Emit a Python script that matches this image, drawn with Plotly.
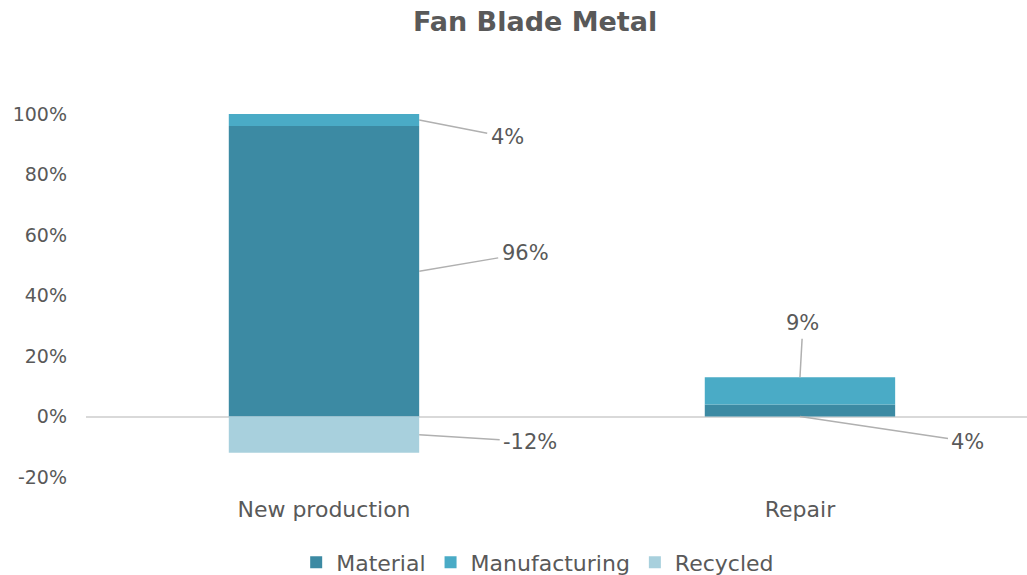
import plotly.graph_objects as go

# Share of fan blade metal by origin, per production route
categories = ["New production", "Repair"]
material = [0.96, 0.04]
manufacturing = [0.04, 0.09]
recycled = [-0.12, 0.0]
tick_values = [-0.2, 0.0, 0.2, 0.4, 0.6, 0.8, 1.0]
tick_labels = ["-20%", "0%", "20%", "40%", "60%", "80%", "100%"]

colors = {"Material": "#3c8aa3", "Manufacturing": "#4aabc6", "Recycled": "#a8d0dd"}
text_color = "#595959"
font_family = "'DejaVu Sans', sans-serif"

x_pos = list(range(len(categories)))
bar_width = 0.4

fig = go.Figure()
for name, vals in [("Material", material), ("Manufacturing", manufacturing), ("Recycled", recycled)]:
    fig.add_trace(go.Bar(
        x=x_pos, y=vals, name=name, width=bar_width,
        marker=dict(color=colors[name], line=dict(width=0)),
        hoverinfo="skip",
    ))

# Data labels with leader lines: (x anchor, y anchor, value, pixel offset of label)
labels = [
    (x_pos[0] + bar_width / 2, material[0] + manufacturing[0] / 2, manufacturing[0], 88, 17),
    (x_pos[0] + bar_width / 2, material[0] / 2, material[0], 106, -18),
    (x_pos[0] + bar_width / 2, recycled[0] / 2, recycled[0], 111, 7),
    (x_pos[1], material[1] + manufacturing[1], manufacturing[1], 3, -54),
    (x_pos[1], 0.0, material[1], 168, 25),
]
for x, y, v, ax, ay in labels:
    fig.add_annotation(
        x=x, y=y, xref="x", yref="y",
        text=f"{v:.0%}", showarrow=True, arrowhead=0, arrowwidth=1.5,
        arrowcolor="#b0b0b0", ax=ax, ay=ay, standoff=0, startstandoff=2,
        font=dict(size=21, color=text_color, family=font_family),
    )

fig.update_layout(
    width=1027, height=575,
    margin=dict(l=86, r=0, t=114, b=98, autoexpand=False),
    paper_bgcolor="white", plot_bgcolor="white",
    barmode="relative",
    title=dict(text="<b>Fan Blade Metal</b>", x=0.521, xanchor="center", y=0.962, yanchor="middle",
               font=dict(size=27, color=text_color, family=font_family)),
    font=dict(family=font_family, color=text_color),
    showlegend=True,
    legend=dict(orientation="h", x=0.48, xanchor="center", yref="container", y=0.022, yanchor="middle",
                font=dict(size=22, color=text_color), itemsizing="constant",
                traceorder="normal", itemwidth=30),
    xaxis=dict(range=[-0.5, 1.477], tickvals=x_pos, ticktext=categories,
               showgrid=False, zeroline=False, showline=False, ticks="",
               ticklabelstandoff=17,
               tickfont=dict(size=22, color=text_color)),
    yaxis=dict(range=[-0.2, 1.0], tickvals=tick_values, ticktext=tick_labels,
               showgrid=False, zeroline=True, zerolinecolor="#d9d9d9", zerolinewidth=1.5,
               showline=False, ticks="", ticklabelstandoff=18,
               tickfont=dict(size=19, color=text_color)),
)

fig.write_html("out.html")
